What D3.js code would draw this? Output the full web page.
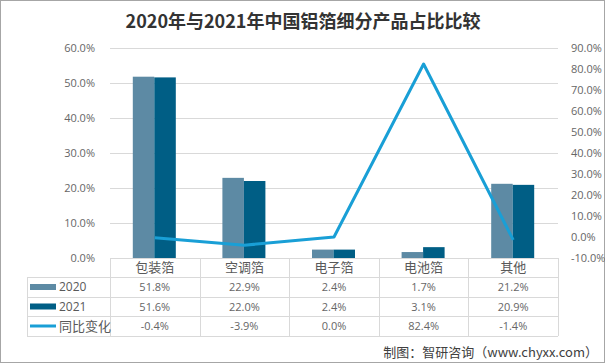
<!DOCTYPE html>
<html>
<head>
<meta charset="utf-8">
<script src="https://cdn.jsdelivr.net/npm/d3@7"></script>
<style>
	body { margin: 0; background: #fff; }
	svg { font-family: "Noto Sans CJK SC", "Noto Sans", sans-serif; display: block; }
</style>
</head>
<body>
<div id="wrapper"></div>
<script>
const categories = ["包装箔", "空调箔", "电子箔", "电池箔", "其他"];
const share2020 = [51.8, 22.9, 2.4, 1.7, 21.2];
const share2021 = [51.6, 22.0, 2.4, 3.1, 20.9];
const yoyChange = [-0.4, -3.9, 0.0, 82.4, -1.4];
const leftTicks = [0, 10, 20, 30, 40, 50, 60];
const rightTicks = [-10, 0, 10, 20, 30, 40, 50, 60, 70, 80, 90];

const drawChart = () => {
	const dimensions = {
		width: 605,
		height: 363,
		plot: { left: 110, right: 558, top: 48, bottom: 258 },
	};

	const svg = d3
		.select("#wrapper")
		.append("svg")
		.attr("width", dimensions.width)
		.attr("height", dimensions.height);

	// outer frame
	svg
		.append("rect")
		.attr("x", 0.5)
		.attr("y", 0.5)
		.attr("width", dimensions.width - 1)
		.attr("height", dimensions.height - 1)
		.attr("fill", "#fff")
		.attr("stroke", "#a6a6a6");

	svg
		.append("text")
		.attr("x", 303)
		.attr("y", 28)
		.attr("text-anchor", "middle")
		.attr("font-size", 18)
		.attr("font-weight", 700)
		.attr("fill", "#333")
		.text("2020年与2021年中国铝箔细分产品占比比较");

	const { left, right, top, bottom } = dimensions.plot;

	// scales
	const xScale = d3.scaleBand().domain(categories).range([left, right]);
	const yLeft = d3.scaleLinear().domain([0, 60]).range([bottom, top]);
	const yRight = d3.scaleLinear().domain([-10, 90]).range([bottom, top]);
	const inner = d3
		.scaleBand()
		.domain(["2020", "2021"])
		.range([0, 43])
		.padding(0);

	// gridlines
	svg
		.append("g")
		.selectAll("line")
		.data(leftTicks.filter((d) => d > 0))
		.join("line")
		.attr("x1", left)
		.attr("x2", right)
		.attr("y1", (d) => Math.round(yLeft(d)) + 0.5)
		.attr("y2", (d) => Math.round(yLeft(d)) + 0.5)
		.attr("stroke", "#d9d9d9");

	// axes
	const yAxisLeft = svg
		.append("g")
		.attr("transform", `translate(${left - 12}, 0)`)
		.call(
			d3
				.axisLeft(yLeft)
				.tickValues(leftTicks)
				.tickSize(0)
				.tickFormat((d) => d.toFixed(1) + "%")
		);
	const yAxisRight = svg
		.append("g")
		.attr("transform", `translate(${right + 10}, 0)`)
		.call(
			d3
				.axisRight(yRight)
				.tickValues(rightTicks)
				.tickSize(0)
				.tickFormat((d) => d.toFixed(1) + "%")
		);
	[yAxisLeft, yAxisRight].forEach((ax) => {
		ax.select(".domain").remove();
		ax.selectAll("text")
			.attr("font-family", "'Open Sans', 'Noto Sans', sans-serif")
			.attr("font-size", 11)
			.attr("fill", "#666");
	});

	// bars
	const groups = svg
		.append("g")
		.selectAll("g")
		.data(categories.map((c, i) => ({ c, v: [share2020[i], share2021[i]] })))
		.join("g")
		.attr("transform", (d) => `translate(${xScale(d.c) + xScale.bandwidth() / 2 - 22}, 0)`);
	const colors = { "2020": "#5d8aa4", "2021": "#005e85" };
	groups
		.selectAll("rect")
		.data((d) => [
			{ k: "2020", v: d.v[0] },
			{ k: "2021", v: d.v[1] },
		])
		.join("rect")
		.attr("x", (d) => inner(d.k))
		.attr("width", inner.bandwidth())
		.attr("y", (d) => yLeft(d.v))
		.attr("height", (d) => bottom - yLeft(d.v))
		.attr("fill", (d) => colors[d.k]);

	// line
	const lineGenerator = d3
		.line()
		.x((d, i) => xScale(categories[i]) + xScale.bandwidth() / 2)
		.y((d) => yRight(d));
	svg
		.append("path")
		.attr("d", lineGenerator(yoyChange))
		.attr("fill", "none")
		.attr("stroke", "#199fd6")
		.attr("stroke-width", 3)
		.attr("stroke-linejoin", "round");

	// data table
	const rowLines = [bottom, 277, 297, 316, 336];
	const tableLeft = 27;
	const table = svg.append("g").attr("stroke", "#d9d9d9");
	table
		.selectAll("line.h")
		.data(rowLines)
		.join("line")
		.attr("class", "h")
		.attr("x1", (d, i) => (i === 0 ? left : tableLeft))
		.attr("x2", right)
		.attr("y1", (d) => d + 0.5)
		.attr("y2", (d) => d + 0.5);
	table
		.selectAll("line.v")
		.data(d3.range(categories.length + 1))
		.join("line")
		.attr("class", "v")
		.attr("x1", (i) => Math.round(left + i * xScale.bandwidth()) + 0.5)
		.attr("x2", (i) => Math.round(left + i * xScale.bandwidth()) + 0.5)
		.attr("y1", bottom)
		.attr("y2", 336);
	table
		.append("line")
		.attr("x1", tableLeft + 0.5)
		.attr("x2", tableLeft + 0.5)
		.attr("y1", 277)
		.attr("y2", 336);

	svg
		.append("g")
		.selectAll("text")
		.data(categories)
		.join("text")
		.attr("x", (d) => xScale(d) + xScale.bandwidth() / 2)
		.attr("y", 272)
		.attr("text-anchor", "middle")
		.attr("font-size", 13)
		.attr("fill", "#595959")
		.text((d) => d);

	const rows = [
		{ name: "2020", vals: share2020, type: "bar", color: colors["2020"] },
		{ name: "2021", vals: share2021, type: "bar", color: colors["2021"] },
		{ name: "同比变化", vals: yoyChange, type: "line", color: "#199fd6" },
	];
	rows.forEach((row, r) => {
		const yMid = (rowLines[r + 1] + rowLines[r + 2]) / 2;
		if (row.type === "bar") {
			svg
				.append("rect")
				.attr("x", 30)
				.attr("y", yMid - 3)
				.attr("width", 26)
				.attr("height", 6)
				.attr("fill", row.color);
		} else {
			svg
				.append("line")
				.attr("x1", 30)
				.attr("x2", 56)
				.attr("y1", yMid)
				.attr("y2", yMid)
				.attr("stroke", row.color)
				.attr("stroke-width", 3);
		}
		svg
			.append("text")
			.attr("x", 59)
			.attr("y", yMid + (row.type === "line" ? 5 : 4))
			.attr("font-size", row.type === "line" ? 13 : 12)
			.attr("font-family", row.type === "line" ? null : "'Open Sans', sans-serif")
			.attr("fill", "#595959")
			.text(row.name);
		svg
			.append("g")
			.selectAll("text")
			.data(row.vals)
			.join("text")
			.attr("x", (d, i) => xScale(categories[i]) + xScale.bandwidth() / 2)
			.attr("y", yMid + 4)
			.attr("text-anchor", "middle")
			.attr("font-family", "'Open Sans', sans-serif")
			.attr("font-size", 11)
			.attr("fill", "#666")
			.text((d) => d.toFixed(1) + "%");
	});

	svg
		.append("text")
		.attr("x", 598)
		.attr("y", 357)
		.attr("text-anchor", "end")
		.attr("font-size", 13)
		.attr("fill", "#404040")
		.text("制图：智研咨询（www.chyxx.com）");
};

drawChart();
</script>
</body>
</html>
